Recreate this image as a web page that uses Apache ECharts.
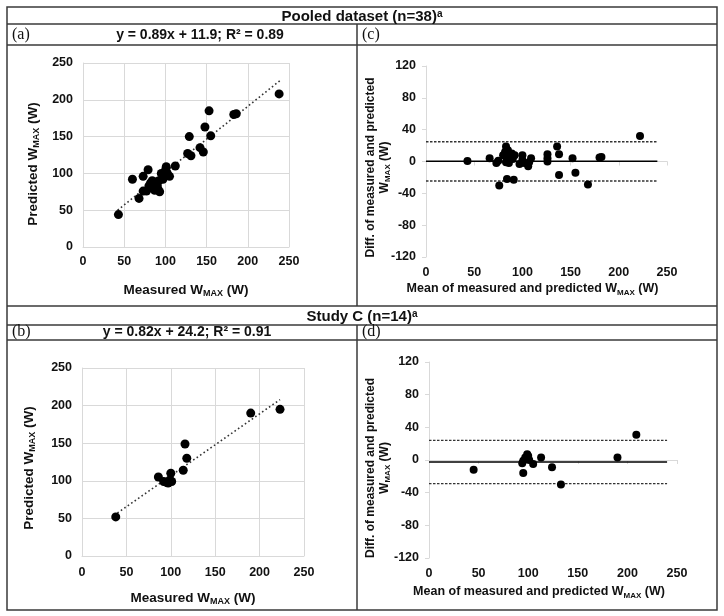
<!DOCTYPE html>
<html><head><meta charset="utf-8">
<script src="https://cdn.jsdelivr.net/npm/echarts@6/dist/echarts.min.js"></script>
<style>html,body{margin:0;padding:0;background:#fff}#c{width:724px;height:616px}</style>
</head><body><div id="c"></div>
<script>
// ---- Pooled dataset (n=38): measured vs predicted ----
const pooledMeasured  = [43, 60, 68, 73, 73, 77, 79, 80, 82, 84, 84, 86, 87, 88, 89, 90, 91, 92, 93, 95, 97, 98, 100, 101, 102, 105, 112, 127, 129, 131, 142, 146, 148, 153, 155, 183, 186, 238];
const pooledPredicted = [44, 92, 66, 96, 76, 76, 105, 83, 87, 80, 90, 84, 77, 88, 80, 84, 79, 90, 75, 100, 92, 97, 104, 109, 101, 96, 110, 127, 150, 124, 135, 129, 163, 185, 151, 180, 181, 208];
const pooledTrendX = [42, 239];
const pooledTrendY = [50, 226];
// ---- Pooled dataset: Bland-Altman ----
const pooledMean = [43, 66, 73, 75, 76, 80, 82, 83, 83.5, 83, 84, 86, 87, 89, 88, 91, 92, 90, 97, 100, 100, 102, 106, 107, 109, 126, 126, 126, 136, 138, 138, 152, 155, 168, 180, 182, 222, 85];
const pooledDiff = [0.5, 4, -2, 1, -30, 8, 12, 19, 5, -1, -22, -2, 4, 10, 6, -23, 8, 3, -3, 8, 2, -2, -6, -1, 4, 9, 4, 0, 19, 9, -17, 4, -14, -29, 5, 5.5, 32, 14];
const pooledLimits = [0.3, 24.8, -24.5];   // bias, upper LoA, lower LoA
// ---- Study C (n=14) ----
const studyMeasured  = [38, 86, 92, 95, 97, 98, 99, 100, 101, 114, 116, 118, 190, 223];
const studyPredicted = [52, 105, 99, 98, 97, 99, 101, 110, 99, 114, 149, 130, 190, 195];
const studyTrendX = [36, 223];
const studyTrendY = [54, 208];
const studyMean = [45, 94, 95, 95, 97, 99, 100, 101, 105, 113, 124, 133, 190, 209];
const studyDiff = [-12, -4, -16, -1, 3, 7, 5, 0, -5, 3, -9, -30, 3, 31];
const studyLimits = [-2.5, 24, -29];
const limitLineX = [0, 240];
// ---- ticks ----
const scatterTicks = [0, 250, 50];
const baYTicks = [-120, 120, 40];
const baXTicks = [0, 250, 50];

const F = '"Liberation Sans", Arial, sans-serif';
const INK = '#111';
const GRIDC = '#d9d9d9';
const pairs = (xs, ys) => xs.map((x, i) => [x, ys[i]]);

function nameStyle(size, lh, extra) {
  return Object.assign({
    fontFamily: F, fontWeight: 'bold', fontSize: size, color: INK, lineHeight: lh,
    rich: { sub: { fontFamily: F, fontWeight: 'bold', fontSize: Math.round(size * 0.66), lineHeight: Math.round(lh * 0.55), verticalAlign: 'bottom', color: INK } }
  }, extra || {});
}
const tickLabel = (m) => ({ fontFamily: F, fontWeight: 'bold', fontSize: 12.5, color: INK, margin: m });

function scatterX(grid, gap, m) {
  return { gridIndex: grid, type: 'value', min: scatterTicks[0], max: scatterTicks[1], interval: scatterTicks[2],
    axisLine: { lineStyle: { color: GRIDC } }, axisTick: { show: false },
    splitLine: { lineStyle: { color: GRIDC } }, axisLabel: tickLabel(m),
    name: 'Measured W{sub|MAX} (W)', nameLocation: 'middle', nameGap: gap, nameMoveOverlap: false,
    nameTextStyle: nameStyle(13.5, 16) };
}
function scatterY(grid, gap, shift) {
  return { gridIndex: grid, type: 'value', min: scatterTicks[0], max: scatterTicks[1], interval: scatterTicks[2],
    axisLine: { show: true, lineStyle: { color: GRIDC } }, axisTick: { show: false },
    splitLine: { lineStyle: { color: GRIDC } }, axisLabel: tickLabel(10),
    name: 'Predicted W{sub|MAX} (W)', nameLocation: 'middle', nameRotate: 90, nameGap: gap, nameMoveOverlap: false,
    nameTextStyle: nameStyle(13.5, 16, { padding: [0, shift, 0, 0] }) };
}
function baX(grid, gap, m) {
  return { gridIndex: grid, type: 'value', position: 'bottom', min: baXTicks[0], max: baXTicks[1], interval: baXTicks[2],
    axisLine: { show: false, onZero: false }, axisTick: { show: false }, splitLine: { show: false }, axisLabel: tickLabel(m),
    name: 'Mean of measured and predicted W{sub|MAX} (W)', nameLocation: 'middle', nameGap: gap, nameMoveOverlap: false,
    nameTextStyle: nameStyle(12.5, 16, { padding: [0, 28, 0, 0] }) };
}
function baZeroX(grid) {
  return { gridIndex: grid, type: 'value', position: 'bottom', min: baXTicks[0], max: baXTicks[1], interval: baXTicks[2],
    axisLine: { show: true, onZero: true, lineStyle: { color: GRIDC } }, axisTick: { show: true, length: 4, lineStyle: { color: GRIDC } },
    splitLine: { show: false }, axisLabel: { show: false } };
}
function baY(grid, gap, shift) {
  return { gridIndex: grid, type: 'value', min: baYTicks[0], max: baYTicks[1], interval: baYTicks[2],
    axisLine: { show: true, lineStyle: { color: GRIDC } }, axisTick: { show: true, length: 4, lineStyle: { color: GRIDC } },
    splitLine: { show: false }, axisLabel: tickLabel(10),
    name: 'Diff. of measured and predicted\nW{sub|MAX} (W)', nameLocation: 'middle', nameRotate: 90, nameGap: gap, nameMoveOverlap: false,
    nameTextStyle: nameStyle(12, 14, { padding: [0, shift, 0, 0] }) };
}
function pts(xi, yi, data, size) {
  return { type: 'scatter', xAxisIndex: xi, yAxisIndex: yi, data: data, symbol: 'circle', symbolSize: size,
    itemStyle: { color: '#000', opacity: 1 }, z: 5, silent: true };
}
function seg(xi, yi, data, style) {
  return { type: 'line', xAxisIndex: xi, yAxisIndex: yi, data: data, showSymbol: false, symbol: 'none',
    lineStyle: style, z: 3, silent: true };
}
const dotted = { color: '#333', width: 1.6, type: [1.6, 2.6] };
const solid = { color: '#000', width: 1.5, type: 'solid' };
const dashed = { color: '#333', width: 1.3, type: [2.5, 1.5] };
function limitSeries(xi, yi, lim) {
  return [
    seg(xi, yi, limitLineX.map(x => [x, lim[0]]), solid),
    seg(xi, yi, limitLineX.map(x => [x, lim[1]]), dashed),
    seg(xi, yi, limitLineX.map(x => [x, lim[2]]), dashed)
  ];
}

const BORDER = '#3a3a3a';
const hline = (y) => ({ type: 'line', shape: { x1: 7, y1: y, x2: 717, y2: y }, style: { stroke: BORDER, lineWidth: 1.5 } });
const vline = (y1, y2) => ({ type: 'line', shape: { x1: 357, y1: y1, x2: 357, y2: y2 }, style: { stroke: BORDER, lineWidth: 1.5 } });
const txt = (x, y, text, font, align, rich) => ({ type: 'text', x: x, y: y, z: 10,
  style: { text: text, font: font, fill: INK, align: align || 'center', verticalAlign: 'middle', rich: rich } });
const supRich = { sup: { fontFamily: F, fontWeight: 'bold', fontSize: 10, lineHeight: 10, verticalAlign: 'top', fill: INK } };
const serif = '16px "Liberation Serif", "Times New Roman", serif';
const boldF = (s) => 'bold ' + s + 'px ' + F;

const option = {
  animation: false,
  backgroundColor: '#fff',
  grid: [
    { left: 83, top: 63, width: 206, height: 184 },
    { left: 426, top: 66, width: 241, height: 191 },
    { left: 82, top: 368, width: 222, height: 188 },
    { left: 429, top: 362, width: 248, height: 196 }
  ],
  xAxis: [ scatterX(0, 35, 8), baX(1, 24, 9), baZeroX(1), scatterX(2, 34, 10), baX(3, 26, 9), baZeroX(3) ],
  yAxis: [ scatterY(0, 42, 18), baY(1, 34, 12), scatterY(2, 45, 12), baY(3, 37, 16) ],
  series: [
    pts(0, 0, pairs(pooledMeasured, pooledPredicted), 9),
    seg(0, 0, pairs(pooledTrendX, pooledTrendY), dotted),
    pts(1, 1, pairs(pooledMean, pooledDiff), 8),
    ...limitSeries(1, 1, pooledLimits),
    pts(3, 2, pairs(studyMeasured, studyPredicted), 9),
    seg(3, 2, pairs(studyTrendX, studyTrendY), dotted),
    pts(4, 3, pairs(studyMean, studyDiff), 8),
    ...limitSeries(4, 3, studyLimits)
  ],
  graphic: [
    { type: 'rect', shape: { x: 7, y: 7, width: 710, height: 603 }, style: { fill: null, stroke: BORDER, lineWidth: 1.5 } },
    hline(24), hline(45), hline(306), hline(325), hline(340),
    vline(24, 306), vline(325, 610),
    txt(362, 16.5, 'Pooled dataset (n=38){sup|a}', boldF(15), 'center', supRich),
    txt(12, 35, '(a)', serif, 'left'),
    txt(200, 35, 'y = 0.89x + 11.9; R² = 0.89', boldF(14)),
    txt(362, 35, '(c)', serif, 'left'),
    txt(362, 316.5, 'Study C (n=14){sup|a}', boldF(15), 'center', supRich),
    txt(12, 332, '(b)', serif, 'left'),
    txt(187, 332, 'y = 0.82x + 24.2; R² = 0.91', boldF(14)),
    txt(362, 332, '(d)', serif, 'left')
  ]
};
const chart = echarts.init(document.getElementById('c'));
chart.setOption(option);
</script></body></html>
